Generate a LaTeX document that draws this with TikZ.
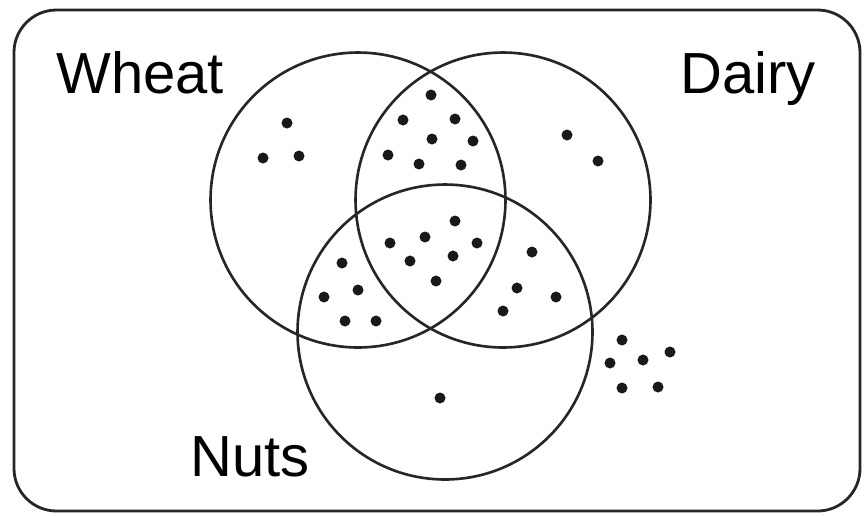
\documentclass[tikz,border=0pt]{standalone}
\usepackage{fontspec}
\setmainfont{Liberation Sans}
\usepackage{tikz}
\usetikzlibrary{positioning}

\begin{document}
\begin{tikzpicture}[
        x=0.02cm, y=-0.02cm,
        set/.style={circle, draw=black!85, line width=1.5pt, minimum size=5.9cm, inner sep=0pt},
        setlabel/.style={inner sep=0pt, anchor=base west, font=\fontsize{33}{38}\selectfont},
        elem/.style={circle, fill=black!90, inner sep=0pt, minimum size=0.22cm}
    ]
        \useasboundingbox (0,0) rectangle (864,515);
        \draw[black!85, line width=1.6pt, rounded corners=0.85cm] (14,10) rectangle (860,511);

        % the three sets
        \node[set] (wheat) at (358,200) {};
        \node[set] (dairy) at (503,200) {};
        \node[set] (nuts) at (445,332) {};

        \node[setlabel] (wheatlbl) at (56,93) {Wheat};
        \node[setlabel] (dairylbl) at (680,93) {Dairy};
        \node[setlabel] (nutslbl) at (190,476) {Nuts};

        % elements
        \foreach \x/\y in {287/123, 263/158, 299/156,
                           567/135, 598/161,
                           431/95, 403/120, 455/119, 432/139, 473/141, 388/155, 419/164, 461/165,
                           455/221, 425/237, 390/243, 477/243, 410/261, 453/256, 436/281,
                           342/263, 358/290, 324/297, 345/321, 376/321,
                           532/252, 517/288, 556/297, 503/311,
                           440/398,
                           622/340, 670/352, 610/363, 643/360, 622/388, 658/387}
            \node[elem] at (\x,\y) {};
    \end{tikzpicture}
\end{document}
